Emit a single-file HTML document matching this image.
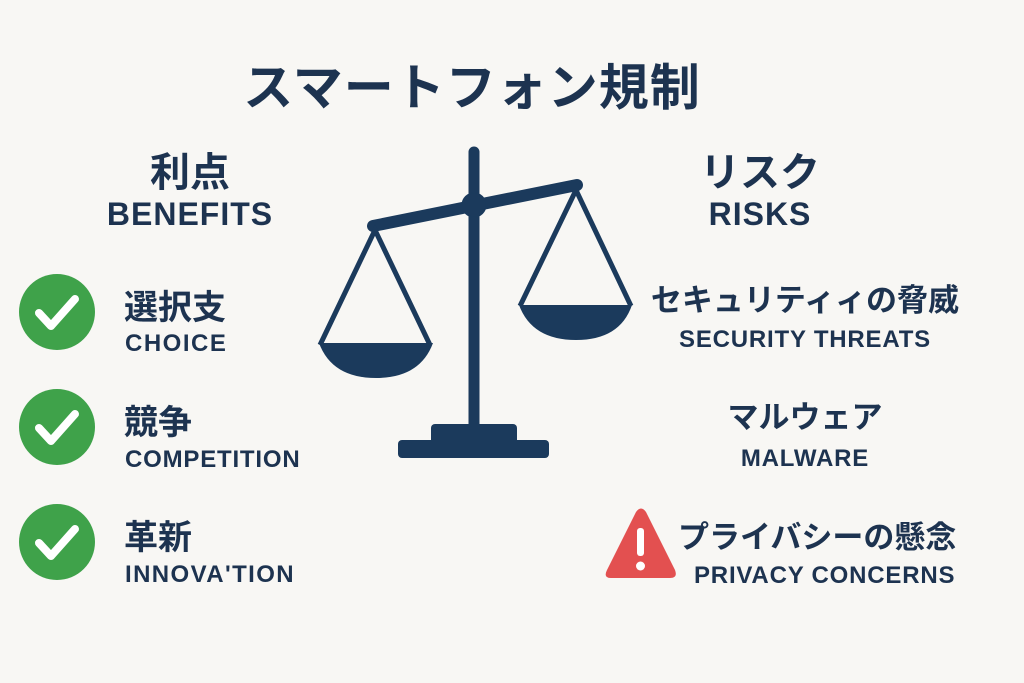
<!DOCTYPE html>
<html><head><meta charset="utf-8"><style>
body{margin:0;width:1024px;height:683px;background:#f8f7f4;overflow:hidden;position:relative;font-family:"Liberation Sans","Noto Sans CJK JP",sans-serif;color:#1d3350}
.t{position:absolute;white-space:nowrap;font-weight:bold}
.jp{font-family:"Noto Sans CJK JP",sans-serif;font-weight:bold}
.c{text-align:center}
.en{letter-spacing:0.8px}
</style></head><body>
<div class="t jp" style="left:0;width:944px;top:48px;font-size:50px;text-align:center;letter-spacing:1px">スマートフォン規制</div>
<div class="t jp c" style="left:100px;width:180px;top:140px;font-size:40px">利点</div>
<div class="t c en" style="left:90px;width:200px;top:196px;font-size:32px;letter-spacing:1px">BENEFITS</div>
<div class="t jp c" style="left:650px;width:220px;top:140px;font-size:40px">リスク</div>
<div class="t c en" style="left:650px;width:220px;top:196px;font-size:32px;letter-spacing:1px">RISKS</div>

<svg width="1024" height="683" style="position:absolute;left:0;top:0">
<g fill="#1b3a5c" stroke="#1b3a5c">
<line x1="474" y1="152" x2="474" y2="428" stroke-width="11" stroke-linecap="round"/>
<line x1="373" y1="226" x2="577" y2="185" stroke-width="12" stroke-linecap="round"/>
<circle cx="474" cy="205" r="12"/>
<polyline points="320,345 375,230 430,345" fill="none" stroke-width="5"/>
<polyline points="520,306 576,190 631,306" fill="none" stroke-width="5"/>
<path d="M319,343 L433,343 Q420,378 376,378 Q332,378 319,343Z" stroke="none"/>
<path d="M519,305 L632,305 Q620,340 576,340 Q532,340 519,305Z" stroke="none"/>
<rect x="431" y="424" width="86" height="20" rx="4" stroke="none"/>
<rect x="398" y="440" width="151" height="18" rx="4" stroke="none"/>
</g>
<g>
<circle cx="57" cy="312" r="38" fill="#3fa24a"/>
<circle cx="57" cy="427" r="38" fill="#3fa24a"/>
<circle cx="57" cy="542" r="38" fill="#3fa24a"/>
<g fill="none" stroke="#fff" stroke-width="8" stroke-linecap="round" stroke-linejoin="round">
<polyline points="39,313 51,326 75,299"/>
<polyline points="39,428 51,441 75,414"/>
<polyline points="39,543 51,556 75,529"/>
</g>
<path d="M636,512 Q641,505 646,512 L675,570 Q678,578 670,578 L611,578 Q603,578 607,570Z" fill="#e35050"/>
<rect x="637" y="528" width="7" height="28" rx="3" fill="#fff"/>
<circle cx="640.5" cy="566" r="4.5" fill="#fff"/>
</g>
</svg>

<div class="t jp" style="left:124px;top:280px;font-size:34px">選択支</div>
<div class="t en" style="left:125px;top:330px;font-size:24px;letter-spacing:1.5px">CHOICE</div>
<div class="t jp" style="left:124px;top:395px;font-size:34px">競争</div>
<div class="t en" style="left:125px;top:446px;font-size:24px">COMPETITION</div>
<div class="t jp" style="left:124px;top:510px;font-size:34px">革新</div>
<div class="t en" style="left:125px;top:561px;font-size:24px;letter-spacing:1.4px">INNOVA'TION</div>

<div class="t jp c" style="left:640px;width:330px;top:275px;font-size:31px">セキュリティィの脅威</div>
<div class="t c en" style="left:630px;width:350px;top:326px;font-size:24px">SECURITY THREATS</div>
<div class="t jp c" style="left:640px;width:330px;top:392px;font-size:31px">マルウェア</div>
<div class="t c en" style="left:640px;width:330px;top:445px;font-size:24px">MALWARE</div>
<div class="t jp" style="left:678px;top:512px;font-size:31px">プライバシーの懸念</div>
<div class="t en" style="left:694px;top:562px;font-size:24px">PRIVACY CONCERNS</div>
</body></html>
